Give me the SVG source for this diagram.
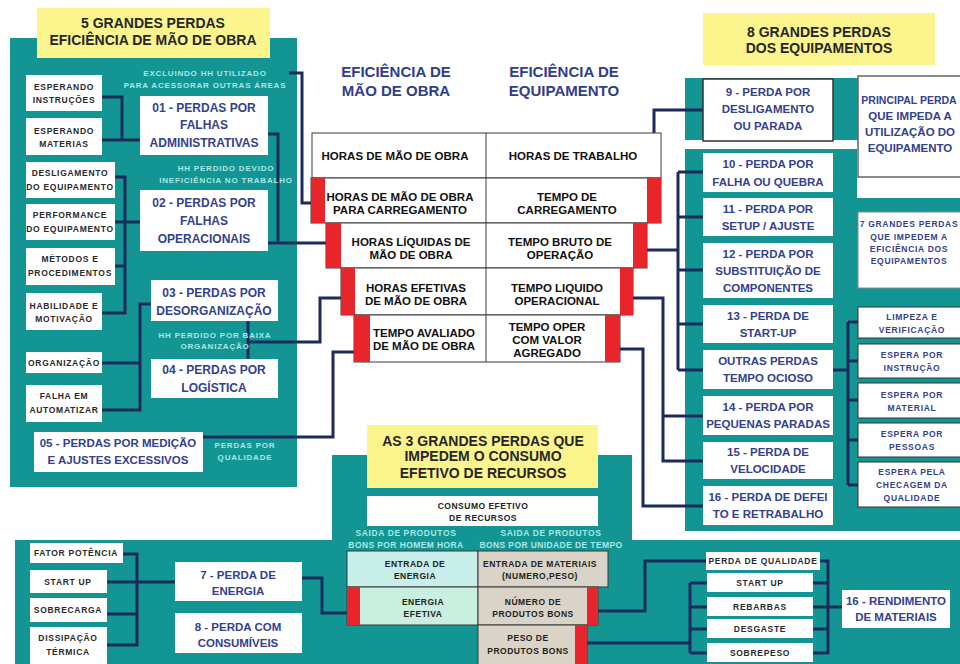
<svg xmlns="http://www.w3.org/2000/svg" width="960" height="664" viewBox="0 0 960 664">
<style>
text{font-family:"Liberation Sans",Arial,sans-serif;font-weight:bold;text-anchor:middle}
.teal{fill:#139693}
.yel{fill:#fcf48c}
.ttl{font-size:14px;fill:#262626}
.hdr{font-size:15px;fill:#2f3d8e}
.mb{font-size:12px;fill:#34418f}
.rb{font-size:11.5px;fill:#34418f}
.sb{font-size:8.5px;fill:#2a2a2a;letter-spacing:0.7px}
.sbb{font-size:8.5px;fill:#34418f;letter-spacing:0.7px}
.lb{font-size:8px;fill:#a9e8e6;letter-spacing:0.8px}
.tb{font-size:11.5px;fill:#111}
.ct{font-size:8.5px;fill:#222;letter-spacing:0.5px}
.wb{fill:#ffffff}
.red{fill:#e8252a}
.cell{fill:#ffffff;stroke:#3a3a3a;stroke-width:1}
.conn{fill:none;stroke:#1c2b5e;stroke-width:3;stroke-linejoin:miter}
</style>

<!-- panels -->
<rect class="teal" x="10" y="38" width="287" height="449"/>
<rect class="teal" x="685" y="78" width="173" height="62"/>
<polygon class="teal" points="685,149 857,149 857,198 960,198 960,531 685,531"/>
<rect class="teal" x="332" y="455" width="300" height="100"/>
<rect class="teal" x="15" y="540" width="945" height="124"/>

<!-- connectors -->
<g id="connectors" class="conn">
  <polyline points="102,97 122,97 122,140"/>
  <polyline points="102,140 140,140"/>
  <polyline points="115,177 125,177 125,313 102,313"/>
  <polyline points="115,222 140,222"/>
  <polyline points="115,266 125,266"/>
  <polyline points="102,363 140,363"/>
  <polyline points="102,410 140,410 140,304 151,304"/>
  <polyline points="268,134 278,134 278,243"/>
  <polyline points="268,243 326,243"/>
  <polyline points="289,73 302,73 302,203 311,203"/>
  <polyline points="248,321 248,359"/>
  <polyline points="248,342 320,342 320,298 341,298"/>
  <polyline points="203,437 333,437 333,352 354,352"/>
  <polyline points="654,178 654,110 703,110"/>
  <polyline points="647,250 678,250"/>
  <polyline points="678,172 678,370"/>
  <polyline points="678,172 703,172"/>
  <polyline points="678,217 703,217"/>
  <polyline points="678,270 703,270"/>
  <polyline points="678,324 703,324"/>
  <polyline points="678,370 703,370"/>
  <polyline points="633,298 663,298 663,461 703,461"/>
  <polyline points="663,416 703,416"/>
  <polyline points="620,349 643,349 643,506 703,506"/>
  <polyline points="833,370 848,370"/>
  <polyline points="848,322 848,485"/>
  <polyline points="848,322 858,322"/>
  <polyline points="848,361 858,361"/>
  <polyline points="848,400 858,400"/>
  <polyline points="848,440 858,440"/>
  <polyline points="848,485 858,485"/>
  <polyline points="123,554 137,554 137,645 107,645"/>
  <polyline points="107,614 137,614"/>
  <polyline points="107,582 175,582"/>
  <polyline points="302,578 322,578 322,613 347,613"/>
  <polyline points="598,611 645,611 645,561 706,561"/>
  <polyline points="587,643 690,643"/>
  <polyline points="690,583 690,653"/>
  <polyline points="690,583 707,583"/>
  <polyline points="690,607 707,607"/>
  <polyline points="690,629 707,629"/>
  <polyline points="690,653 707,653"/>
  <polyline points="820,561 828,561 828,653 813,653"/>
  <polyline points="813,583 828,583"/>
  <polyline points="813,607 842,607"/>
  <polyline points="813,629 828,629"/>
</g>

<!-- titles -->
<g id="title-left">
  <rect class="yel" x="37" y="8" width="233" height="50"/>
  <text class="ttl" x="153" y="28">5 GRANDES PERDAS</text>
  <text class="ttl" x="153" y="45">EFICIÊNCIA DE MÃO DE OBRA</text>
</g>
<g id="title-right">
  <rect class="yel" x="703" y="13" width="232" height="52"/>
  <text class="ttl" x="819" y="37">8 GRANDES PERDAS</text>
  <text class="ttl" x="819" y="53">DOS EQUIPAMENTOS</text>
</g>
<g id="title-bottom">
  <rect class="yel" x="367" y="425" width="231" height="63"/>
  <text class="ttl" x="483" y="446">AS 3 GRANDES PERDAS QUE</text>
  <text class="ttl" x="483" y="461">IMPEDEM O CONSUMO</text>
  <text class="ttl" x="483" y="478">EFETIVO DE RECURSOS</text>
</g>
<g id="headers">
  <text class="hdr" x="396" y="77">EFICIÊNCIA DE</text>
  <text class="hdr" x="396" y="96">MÃO DE OBRA</text>
  <text class="hdr" x="564" y="77">EFICIÊNCIA DE</text>
  <text class="hdr" x="564" y="96">EQUIPAMENTO</text>
</g>

<!-- labels -->
<g id="labels">
  <text class="lb" x="205" y="76">EXCLUINDO HH UTILIZADO</text>
  <text class="lb" x="205" y="88">PARA ACESSORAR OUTRAS ÁREAS</text>
  <text class="lb" x="226" y="171">HH PERDIDO DEVIDO</text>
  <text class="lb" x="226" y="183">INEFICIÊNCIA NO TRABALHO</text>
  <text class="lb" x="215" y="338">HH PERDIDO POR BAIXA</text>
  <text class="lb" x="215" y="349">ORGANIZAÇÃO</text>
  <text class="lb" x="245" y="448">PERDAS POR</text>
  <text class="lb" x="245" y="460">QUALIDADE</text>
  <text class="lb" x="406" y="536" style="font-size:8.5px;letter-spacing:0.6px">SAIDA DE PRODUTOS</text>
  <text class="lb" x="406" y="548" style="font-size:8.5px;letter-spacing:0.4px">BONS POR HOMEM HORA</text>
  <text class="lb" x="551" y="536" style="font-size:8.5px;letter-spacing:0.6px">SAIDA DE PRODUTOS</text>
  <text class="lb" x="551" y="548" style="font-size:8.5px;letter-spacing:0.4px">BONS POR UNIDADE DE TEMPO</text>
</g>

<!-- left small boxes -->
<g id="esperando-instrucoes"><rect class="wb" x="26" y="75" width="76" height="36"/><text class="sb" x="64" y="90">ESPERANDO</text><text class="sb" x="64" y="103">INSTRUÇÕES</text></g>
<g id="esperando-materias"><rect class="wb" x="26" y="118" width="76" height="37"/><text class="sb" x="64" y="134">ESPERANDO</text><text class="sb" x="64" y="147">MATERIAS</text></g>
<g id="desligamento"><rect class="wb" x="26" y="162" width="89" height="36"/><text class="sb" x="70" y="176">DESLIGAMENTO</text><text class="sb" x="70" y="190">DO EQUIPAMENTO</text></g>
<g id="performance"><rect class="wb" x="26" y="204" width="89" height="36"/><text class="sb" x="70" y="218">PERFORMANCE</text><text class="sb" x="70" y="232">DO EQUIPAMENTO</text></g>
<g id="metodos"><rect class="wb" x="26" y="248" width="89" height="37"/><text class="sb" x="70" y="262">MÉTODOS E</text><text class="sb" x="70" y="276">PROCEDIMENTOS</text></g>
<g id="habilidade"><rect class="wb" x="26" y="293" width="76" height="37"/><text class="sb" x="64" y="309">HABILIDADE E</text><text class="sb" x="64" y="322">MOTIVAÇÃO</text></g>
<g id="organizacao"><rect class="wb" x="26" y="352" width="76" height="21"/><text class="sb" x="64" y="366">ORGANIZAÇÃO</text></g>
<g id="falha-automatizar"><rect class="wb" x="26" y="385" width="76" height="37"/><text class="sb" x="64" y="399">FALHA EM</text><text class="sb" x="64" y="413">AUTOMATIZAR</text></g>

<!-- left medium boxes -->
<g id="perda01"><rect class="wb" x="140" y="96" width="128" height="59"/><text class="mb" x="204" y="112">01 - PERDAS POR</text><text class="mb" x="204" y="129">FALHAS</text><text class="mb" x="204" y="147">ADMINISTRATIVAS</text></g>
<g id="perda02"><rect class="wb" x="140" y="190" width="128" height="61"/><text class="mb" x="204" y="207">02 - PERDAS POR</text><text class="mb" x="204" y="225">FALHAS</text><text class="mb" x="204" y="243">OPERACIONAIS</text></g>
<g id="perda03"><rect class="wb" x="151" y="280" width="127" height="41"/><text class="mb" x="214" y="297">03 - PERDAS POR</text><text class="mb" x="214" y="315">DESORGANIZAÇÃO</text></g>
<g id="perda04"><rect class="wb" x="151" y="359" width="127" height="39"/><text class="mb" x="214" y="374">04 - PERDAS POR</text><text class="mb" x="214" y="392">LOGÍSTICA</text></g>
<g id="perda05"><rect class="wb" x="34" y="432" width="169" height="40"/><text class="rb" x="118" y="447">05 - PERDAS POR MEDIÇÃO</text><text class="rb" x="118" y="464">E AJUSTES EXCESSIVOS</text></g>

<!-- middle table -->
<g id="row1"><rect class="cell" x="312" y="133" width="349" height="45"/><line x1="486" y1="133" x2="486" y2="178" stroke="#3a3a3a"/><text class="tb" x="395" y="160">HORAS DE MÃO DE OBRA</text><text class="tb" x="573" y="160">HORAS DE TRABALHO</text></g>
<g id="row2"><rect class="cell" x="311" y="178" width="350" height="45"/><rect class="red" x="311" y="178" width="14" height="45"/><rect class="red" x="647" y="178" width="14" height="45"/><line x1="486" y1="178" x2="486" y2="223" stroke="#3a3a3a"/><text class="tb" x="400" y="201">HORAS DE MÃO DE OBRA</text><text class="tb" x="400" y="214">PARA CARREGAMENTO</text><text class="tb" x="567" y="201">TEMPO DE</text><text class="tb" x="567" y="214">CARREGAMENTO</text></g>
<g id="row3"><rect class="cell" x="326" y="223" width="321" height="45"/><rect class="red" x="326" y="223" width="15" height="45"/><rect class="red" x="633" y="223" width="14" height="45"/><line x1="486" y1="223" x2="486" y2="268" stroke="#3a3a3a"/><text class="tb" x="411" y="246">HORAS LÍQUIDAS DE</text><text class="tb" x="411" y="259">MÃO DE OBRA</text><text class="tb" x="560" y="246">TEMPO BRUTO DE</text><text class="tb" x="560" y="259">OPERAÇÃO</text></g>
<g id="row4"><rect class="cell" x="341" y="268" width="292" height="47"/><rect class="red" x="341" y="268" width="14" height="47"/><rect class="red" x="620" y="268" width="13" height="47"/><line x1="486" y1="268" x2="486" y2="315" stroke="#3a3a3a"/><text class="tb" x="416" y="292">HORAS EFETIVAS</text><text class="tb" x="416" y="305">DE MÃO DE OBRA</text><text class="tb" x="557" y="292">TEMPO LIQUIDO</text><text class="tb" x="557" y="305">OPERACIONAL</text></g>
<g id="row5"><rect class="cell" x="354" y="315" width="266" height="47"/><rect class="red" x="354" y="315" width="16" height="47"/><rect class="red" x="605" y="315" width="15" height="47"/><line x1="486" y1="315" x2="486" y2="362" stroke="#3a3a3a"/><text class="tb" x="424" y="337">TEMPO AVALIADO</text><text class="tb" x="424" y="350">DE MÃO DE OBRA</text><text class="tb" x="547" y="331">TEMPO OPER</text><text class="tb" x="547" y="344">COM VALOR</text><text class="tb" x="547" y="357">AGREGADO</text></g>

<!-- right column -->
<g id="perda09"><rect x="703" y="79" width="130" height="62" fill="#fff" stroke="#333" stroke-width="1.5"/><text class="rb" x="768" y="96">9 - PERDA POR</text><text class="rb" x="768" y="113">DESLIGAMENTO</text><text class="rb" x="768" y="130">OU PARADA</text></g>
<g id="principal"><rect x="858" y="76" width="110" height="101" fill="#fff" stroke="#666" stroke-width="1.5"/><text class="rb" x="909" y="104" style="font-size:10.5px">PRINCIPAL PERDA</text><text class="rb" x="910" y="120">QUE IMPEDA A</text><text class="rb" x="910" y="136">UTILIZAÇÃO DO</text><text class="rb" x="910" y="152">EQUIPAMENTO</text></g>
<g id="sete-grandes"><rect x="858" y="212" width="110" height="76" fill="#fff" stroke="#888" stroke-width="1"/><text class="sbb" x="909" y="227">7 GRANDES PERDAS</text><text class="sbb" x="909" y="240">QUE IMPEDEM A</text><text class="sbb" x="909" y="252">EFICIÊNCIA DOS</text><text class="sbb" x="909" y="264">EQUIPAMENTOS</text></g>
<g id="perda10"><rect class="wb" x="703" y="153" width="130" height="39"/><text class="rb" x="768" y="168">10 - PERDA POR</text><text class="rb" x="768" y="186">FALHA OU QUEBRA</text></g>
<g id="perda11"><rect class="wb" x="703" y="198" width="130" height="38"/><text class="rb" x="768" y="213">11 - PERDA POR</text><text class="rb" x="768" y="230">SETUP / AJUSTE</text></g>
<g id="perda12"><rect class="wb" x="703" y="243" width="130" height="55"/><text class="rb" x="768" y="258">12 - PERDA POR</text><text class="rb" x="768" y="275">SUBSTITUIÇÃO DE</text><text class="rb" x="768" y="292">COMPONENTES</text></g>
<g id="perda13"><rect class="wb" x="703" y="305" width="130" height="38"/><text class="rb" x="768" y="320">13 - PERDA DE</text><text class="rb" x="768" y="337">START-UP</text></g>
<g id="outras"><rect class="wb" x="703" y="350" width="130" height="39"/><text class="rb" x="768" y="365">OUTRAS PERDAS</text><text class="rb" x="768" y="382">TEMPO OCIOSO</text></g>
<g id="perda14"><rect class="wb" x="703" y="396" width="130" height="39"/><text class="rb" x="768" y="411">14 - PERDA POR</text><text class="rb" x="768" y="428">PEQUENAS PARADAS</text></g>
<g id="perda15"><rect class="wb" x="703" y="442" width="130" height="37"/><text class="rb" x="768" y="456">15 - PERDA DE</text><text class="rb" x="768" y="473">VELOCIDADE</text></g>
<g id="perda16"><rect class="wb" x="703" y="486" width="130" height="39"/><text class="rb" x="768" y="501">16 - PERDA DE DEFEI</text><text class="rb" x="768" y="518">TO E RETRABALHO</text></g>
<g id="limpeza"><rect x="858" y="307" width="110" height="31" fill="#fff" stroke="#333"/><text class="sbb" x="912" y="320">LIMPEZA E</text><text class="sbb" x="912" y="333">VERIFICAÇÃO</text></g>
<g id="espera-instrucao"><rect x="858" y="344" width="110" height="34" fill="#fff" stroke="#333"/><text class="sbb" x="912" y="358">ESPERA POR</text><text class="sbb" x="912" y="371">INSTRUÇÃO</text></g>
<g id="espera-material"><rect x="858" y="383" width="110" height="35" fill="#fff" stroke="#333"/><text class="sbb" x="912" y="398">ESPERA POR</text><text class="sbb" x="912" y="411">MATERIAL</text></g>
<g id="espera-pessoas"><rect x="858" y="423" width="110" height="34" fill="#fff" stroke="#333"/><text class="sbb" x="912" y="437">ESPERA POR</text><text class="sbb" x="912" y="450">PESSOAS</text></g>
<g id="espera-qualidade"><rect x="858" y="462" width="110" height="45" fill="#fff" stroke="#333"/><text class="sbb" x="912" y="475">ESPERA PELA</text><text class="sbb" x="912" y="488">CHECAGEM DA</text><text class="sbb" x="912" y="501">QUALIDADE</text></g>

<!-- bottom center -->
<g id="consumo"><rect class="wb" x="367" y="496" width="231" height="30"/><text class="ct" x="483" y="509">CONSUMO EFETIVO</text><text class="ct" x="483" y="521">DE RECURSOS</text></g>
<g id="entrada-energia"><rect x="347" y="551" width="131" height="36" fill="#c7eee9" stroke="#3a3a3a"/><text class="ct" x="415" y="567">ENTRADA DE</text><text class="ct" x="415" y="579">ENERGIA</text></g>
<g id="entrada-materiais"><rect x="478" y="551" width="130" height="36" fill="#d9d4c7" stroke="#3a3a3a"/><text class="ct" x="540" y="567">ENTRADA DE MATERIAIS</text><text class="ct" x="540" y="579">(NUMERO,PESO)</text></g>
<g id="energia-efetiva"><rect x="347" y="587" width="131" height="38" fill="#c8efdf" stroke="#3a3a3a"/><rect class="red" x="347" y="587" width="13" height="38"/><text class="ct" x="423" y="605">ENERGIA</text><text class="ct" x="423" y="617">EFETIVA</text></g>
<g id="numero-produtos"><rect x="478" y="587" width="120" height="38" fill="#d9d4c7" stroke="#3a3a3a"/><rect class="red" x="587" y="587" width="11" height="38"/><text class="ct" x="533" y="605">NÚMERO DE</text><text class="ct" x="533" y="617">PRODUTOS BONS</text></g>
<g id="peso-produtos"><rect x="478" y="625" width="109" height="40" fill="#d9d4c7" stroke="#3a3a3a"/><rect class="red" x="575" y="625" width="12" height="40"/><text class="ct" x="528" y="641">PESO DE</text><text class="ct" x="528" y="654">PRODUTOS BONS</text></g>

<!-- bottom left -->
<g id="fator-potencia"><rect class="wb" x="30" y="543" width="93" height="20"/><text class="sb" x="76" y="556">FATOR POTÊNCIA</text></g>
<g id="start-up-l"><rect class="wb" x="30" y="570" width="77" height="23"/><text class="sb" x="68" y="585">START UP</text></g>
<g id="sobrecarga"><rect class="wb" x="30" y="598" width="77" height="24"/><text class="sb" x="68" y="613">SOBRECARGA</text></g>
<g id="dissipacao"><rect class="wb" x="30" y="627" width="77" height="40"/><text class="sb" x="68" y="641">DISSIPAÇÃO</text><text class="sb" x="68" y="655">TÉRMICA</text></g>
<g id="perda07"><rect class="wb" x="175" y="562" width="127" height="39"/><text class="rb" x="238" y="579">7 - PERDA DE</text><text class="rb" x="238" y="595">ENERGIA</text></g>
<g id="perda08"><rect class="wb" x="175" y="613" width="127" height="40"/><text class="rb" x="238" y="631">8 - PERDA COM</text><text class="rb" x="238" y="647">CONSUMÍVEIS</text></g>

<!-- bottom right -->
<g id="perda-qualidade"><rect class="wb" x="706" y="552" width="114" height="18"/><text class="sb" x="763" y="564">PERDA DE QUALIDADE</text></g>
<g id="start-up-r"><rect class="wb" x="707" y="573" width="106" height="19"/><text class="sb" x="760" y="586">START UP</text></g>
<g id="rebarbas"><rect class="wb" x="707" y="597" width="106" height="19"/><text class="sb" x="760" y="610">REBARBAS</text></g>
<g id="desgaste"><rect class="wb" x="707" y="619" width="106" height="19"/><text class="sb" x="760" y="632">DESGASTE</text></g>
<g id="sobrepeso"><rect class="wb" x="707" y="643" width="106" height="19"/><text class="sb" x="760" y="656">SOBREPESO</text></g>
<g id="rendimento"><rect class="wb" x="842" y="590" width="108" height="38"/><text class="rb" x="896" y="605">16 - RENDIMENTO</text><text class="rb" x="896" y="621">DE MATERIAIS</text></g>
</svg>
